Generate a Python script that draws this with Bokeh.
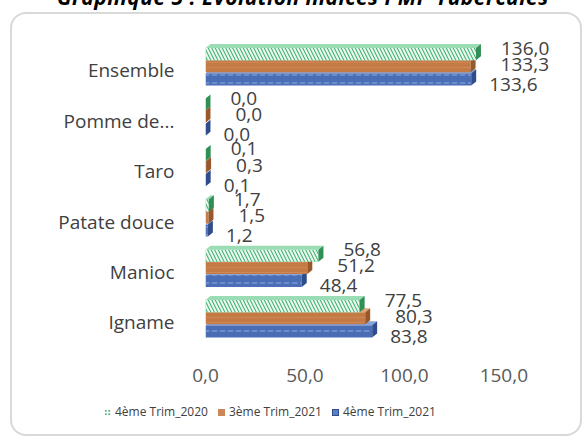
from bokeh.plotting import figure
from bokeh.models import (ColumnDataSource, FixedTicker, CustomJSTickFormatter, Div, Range1d)
from bokeh.layouts import column
from bokeh.embed import file_html
from bokeh.resources import INLINE
from bokeh.core.properties import value

# ---------------- data ----------------
title_text = "Graphique 5 : Evolution indices PMP Tubercules"
categories = ["Igname", "Manioc", "Patate douce", "Taro", "Pomme de...", "Ensemble"]
trim4_2020 = [77.5, 56.8, 1.7, 0.1, 0.0, 136.0]
trim3_2021 = [80.3, 51.2, 1.5, 0.3, 0.0, 133.3]
trim4_2021 = [83.8, 48.4, 1.2, 0.1, 0.0, 133.6]
series_names = ["4ème Trim_2020", "3ème Trim_2021", "4ème Trim_2021"]
x_ticks = [0, 50, 100, 150]

FONT = "Open Sans"
W = 568

p = figure(width=W, height=380, x_range=Range1d(0, 180), y_range=Range1d(-0.5, 5.75),
           output_backend="svg", toolbar_location=None,
           min_border_left=193, min_border_right=17, min_border_top=18, min_border_bottom=47)
p.border_fill_color = None
p.background_fill_color = None
p.outline_line_color = None
p.grid.visible = False

# x axis
p.xaxis.ticker = FixedTicker(ticks=x_ticks)
p.xaxis.formatter = CustomJSTickFormatter(code="return tick.toFixed(1).replace('.', ',');")
p.xaxis.axis_line_color = None
p.xaxis.major_tick_line_color = None
p.xaxis.minor_tick_line_color = None
p.xaxis.major_label_standoff = 15
p.xaxis.major_label_text_font = FONT
p.xaxis.major_label_text_font_size = "19px"
p.xaxis.major_label_text_color = "#595959"

# y axis (categories)
p.yaxis.ticker = FixedTicker(ticks=list(range(len(categories))))
p.yaxis.formatter = CustomJSTickFormatter(args=dict(labels=categories),
                                          code="return labels[Math.round(tick)] || '';")
p.yaxis.axis_line_color = None
p.yaxis.major_tick_line_color = None
p.yaxis.minor_tick_line_color = None
p.yaxis.major_label_standoff = 25
p.yaxis.major_label_text_font = FONT
p.yaxis.major_label_text_font_size = "19px"
p.yaxis.major_label_text_color = "#404040"

H = 0.24
DX = 2.5
DY = 0.08
# (values, offset, face, top, side, hatch, hatch colour, hatch alpha, hatch scale, hatch weight, label dx, label dy)
styles = [
    (trim4_2021, -0.18, "#4A6EB5", "#86A3DB", "#2F4D8C", "horizontal_dash", "#8EAAE0", 0.7, 8, 1.5, 18, 5),
    (trim3_2021, 0.08, "#C47A45", "#DFA577", "#98582C", "horizontal_line", "#D69466", 0.5, 5, 1, 30, -2),
    (trim4_2020, 0.32, "#45B574", "#9ADCB4", "#2F8F55", "left_diagonal_line", "#FFFFFF", 0.9, 7, 2.0, 25, -6),
]

for vals, off, face, top, side, hp, hc, ha, hs, hw, ldx, ldy in styles:
    ys = [i + off for i in range(len(categories))]
    src = ColumnDataSource(dict(y=ys, right=vals,
                                lab=[f"{v:.1f}".replace(".", ",") for v in vals]))
    p.hbar(y="y", left=0, right="right", height=H, source=src,
           fill_color=face, line_color=None,
           hatch_pattern=hp, hatch_color=hc, hatch_alpha=ha,
           hatch_scale=hs, hatch_weight=hw)
    top_xs = [[0, v, v + DX, DX] for v in vals]
    top_ys = [[y + H / 2, y + H / 2, y + H / 2 + DY, y + H / 2 + DY] for y in ys]
    p.patches(xs=top_xs, ys=top_ys, fill_color=top, line_color=None)
    side_xs = [[v, v + DX, v + DX, v] for v in vals]
    side_ys = [[y - H / 2, y - H / 2 + DY, y + H / 2 + DY, y + H / 2] for y in ys]
    p.patches(xs=side_xs, ys=side_ys, fill_color=side, line_color=None)
    p.text(x="right", y="y", text="lab", source=src, x_offset=ldx, y_offset=ldy,
           text_align="left", text_baseline="middle",
           text_font=value(FONT), text_font_size="19px", text_color="#404040")

# ---------------- legend (HTML strip) ----------------
swatches = [
    "background-color:#FFFFFF;background-image:radial-gradient(#45B574 35%, transparent 40%);"
    "background-size:3.5px 3.5px;",
    "background-color:#C9875A;",
    "background-color:#5A7FC4;border:1px solid #2F4D8C;box-sizing:border-box;",
]
start, step = 92, 114
items_html = ""
for k, (name, sw) in enumerate(zip(series_names, swatches)):
    left = start + k * step
    items_html += (
        f'<span style="position:absolute;left:{left}px;top:0;display:flex;align-items:center;'
        f'height:36px;white-space:nowrap;">'
        f'<span style="display:inline-block;width:7px;height:7px;margin-right:4px;{sw}"></span>'
        f'<span>{name}</span></span>'
    )
legend_div = Div(
    text=f'<div style="position:relative;width:{W}px;height:36px;">{items_html}</div>',
    width=W, height=40, margin=0,
    styles={"font-family": FONT, "font-size": "12px", "color": "#404040"})

box = column(p, legend_div, spacing=0, margin=(4, 0, 0, 10),
             styles={"border": "2px solid #D9D9D9", "border-radius": "16px"})

title = Div(text=title_text, width=560, height=22, margin=(-14, 0, 0, 57),
            styles={"font-family": FONT, "font-weight": "bold", "font-style": "italic",
                    "font-size": "21px", "letter-spacing": "0.5px", "line-height": "22px",
                    "color": "#000000", "white-space": "nowrap"})

layout = column(title, box, spacing=0)
open("out.html", "w").write(file_html(layout, INLINE))
